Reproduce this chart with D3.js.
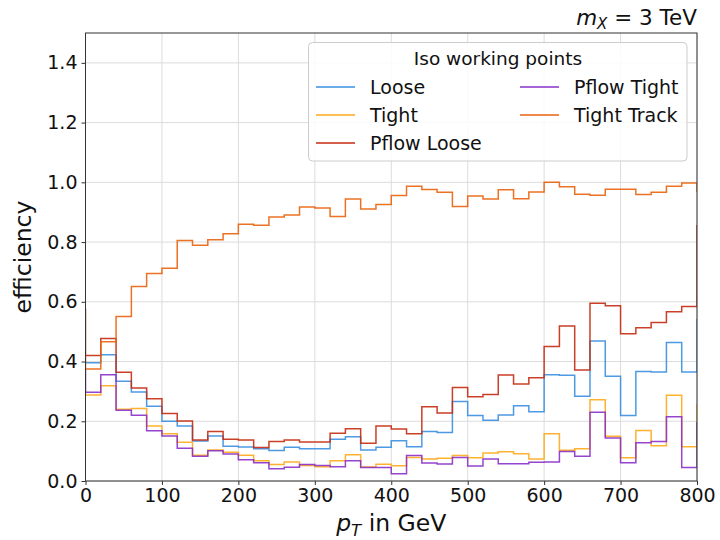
<!DOCTYPE html>
<html><head><meta charset="utf-8">
<script src="https://cdn.jsdelivr.net/npm/d3@7"></script>
<style>body{margin:0;background:#fff}svg{display:block;font-family:"DejaVu Sans",sans-serif}</style>
</head><body><svg id="c" width="720" height="540"></svg>
<script>
const binEdges = d3.range(0, 820, 20); // 0..800
const seriesNames = ["Loose", "Tight", "Pflow Loose", "Pflow Tight", "Tight Track"];
const seriesColors = ["#3a8fe0", "#ffaa1a", "#c42a10", "#8a30c8", "#ea620c"];
const loose = [0.396,0.423,0.334,0.298,0.25,0.2,0.184,0.134,0.151,0.116,0.114,0.108,0.102,0.113,0.108,0.108,0.14,0.148,0.104,0.113,0.135,0.115,0.166,0.162,0.266,0.219,0.203,0.221,0.252,0.232,0.356,0.354,0.284,0.469,0.351,0.219,0.367,0.365,0.464,0.365];
const tight = [0.288,0.319,0.24,0.243,0.184,0.158,0.13,0.086,0.104,0.096,0.086,0.068,0.055,0.064,0.052,0.048,0.068,0.088,0.047,0.056,0.051,0.079,0.074,0.076,0.085,0.078,0.094,0.098,0.091,0.074,0.158,0.103,0.108,0.272,0.15,0.078,0.169,0.118,0.287,0.115];
const pflowLoose = [0.42,0.477,0.364,0.311,0.275,0.226,0.201,0.137,0.166,0.14,0.137,0.112,0.132,0.137,0.131,0.131,0.16,0.175,0.126,0.184,0.174,0.158,0.249,0.228,0.313,0.282,0.29,0.355,0.325,0.346,0.45,0.519,0.372,0.595,0.587,0.493,0.513,0.531,0.567,0.584];
const pflowTight = [0.297,0.356,0.237,0.22,0.168,0.151,0.11,0.083,0.101,0.09,0.071,0.061,0.041,0.046,0.055,0.052,0.048,0.068,0.045,0.045,0.024,0.085,0.06,0.057,0.079,0.05,0.074,0.058,0.058,0.063,0.064,0.099,0.083,0.23,0.144,0.061,0.128,0.132,0.215,0.045];
const tightTrack = [0.375,0.466,0.551,0.651,0.695,0.712,0.805,0.789,0.808,0.828,0.86,0.856,0.884,0.891,0.917,0.914,0.886,0.944,0.911,0.926,0.956,0.987,0.976,0.967,0.919,0.954,0.944,0.975,0.945,0.968,1.0,0.985,0.96,0.957,0.977,0.977,0.959,0.967,0.987,0.998];
// values in the bins just outside the shown range (only their edges are visible)
const underflow = [0.40, 0.30, 0.573, 0.37, 0.42];
const overflow = [0.54, 0.256, 0.855, 0.195, 0.97];
const xTicks = [0,100,200,300,400,500,600,700,800];
const yTicks = [0,0.2,0.4,0.6,0.8,1.0,1.2,1.4];
const allSeries = [loose, tight, pflowLoose, pflowTight, tightTrack];

const svg = d3.select("#c");
const L = 85.5, R = 697, T = 33, B = 481;
const x = d3.scaleLinear().domain([0, 800]).range([L, R]);
const y = d3.scaleLinear().domain([0, 1.5]).range([B, T]);

svg.append("defs").append("clipPath").attr("id","clip")
  .append("rect").attr("x",L).attr("y",T).attr("width",R-L).attr("height",B-T);

// grid
const g = svg.append("g");
g.selectAll(".gx").data(xTicks).join("line")
  .attr("x1",d=>x(d)).attr("x2",d=>x(d)).attr("y1",T).attr("y2",B)
  .attr("stroke","#dcdcdc").attr("stroke-width",1);
g.selectAll(".gy").data(yTicks).join("line")
  .attr("y1",d=>y(d)).attr("y2",d=>y(d)).attr("x1",L).attr("x2",R)
  .attr("stroke","#dcdcdc").attr("stroke-width",1);

// series
const line = d3.line().x(d=>x(d[0])).y(d=>y(d[1])).curve(d3.curveStepAfter);
const plot = svg.append("g").attr("clip-path","url(#clip)");
allSeries.forEach((vals, i) => {
  const pts = [[-20, underflow[i]]];
  vals.forEach((v, j) => pts.push([binEdges[j], v]));
  pts.push([800, overflow[i]]);
  pts.push([820, overflow[i]]);
  plot.append("path").attr("d", line(pts)).attr("fill","none")
    .attr("stroke", seriesColors[i]).attr("stroke-width",1.5).attr("stroke-opacity",0.9);
});

// axes
const xAxis = svg.append("g").attr("transform",`translate(0,${B})`)
  .call(d3.axisBottom(x).tickValues(xTicks).tickSize(4).tickPadding(4).tickFormat(d3.format("d")));
const yAxis = svg.append("g").attr("transform",`translate(${L},0)`)
  .call(d3.axisLeft(y).tickValues(yTicks).tickSize(4).tickPadding(4).tickFormat(d3.format(".1f")));
[xAxis, yAxis].forEach(a => {
  a.select(".domain").remove();
  a.selectAll("line").attr("stroke","#333");
  a.selectAll("text").attr("font-size","19px").attr("fill","#111").attr("font-family","DejaVu Sans");
});
// frame
svg.append("rect").attr("x",L).attr("y",T).attr("width",R-L).attr("height",B-T)
  .attr("fill","none").attr("stroke","#333").attr("stroke-width",1);

// axis labels
const xl = svg.append("text").attr("x",(L+R)/2).attr("y",531).attr("text-anchor","middle")
  .attr("font-size","23.5px").attr("fill","#111");
xl.append("tspan").attr("font-style","italic").text("p");
xl.append("tspan").attr("font-style","italic").attr("font-size","16.5px").attr("dy",5).text("T");
xl.append("tspan").attr("dy",-5).text(" in GeV");
svg.append("text").attr("transform",`translate(31,${(T+B)/2}) rotate(-90)`)
  .attr("text-anchor","middle").attr("font-size","23.5px").attr("fill","#111").text("efficiency");

// title
const tt = svg.append("text").attr("x",R).attr("y",25).attr("text-anchor","end")
  .attr("font-size","21.5px").attr("fill","#111");
tt.append("tspan").attr("font-style","italic").text("m");
tt.append("tspan").attr("font-style","italic").attr("font-size","15px").attr("dy",4).text("X");
tt.append("tspan").attr("dy",-4).text(" = 3 TeV");

// legend
const lg = svg.append("g");
lg.append("rect").attr("x",308.5).attr("y",42.5).attr("width",378.5).attr("height",118.5)
  .attr("rx",4).attr("fill","#fff").attr("fill-opacity",0.85).attr("stroke","#cccccc");
lg.append("text").attr("x",498).attr("y",65).attr("text-anchor","middle")
  .attr("font-size","18.5px").attr("fill","#111").text("Iso working points");
const legPos = [[316,87],[316,115],[316,143],[520,87],[520,115]];
seriesNames.forEach((n,i) => {
  const [lx, ly] = legPos[i];
  lg.append("line").attr("x1",lx).attr("x2",lx+39).attr("y1",ly).attr("y2",ly)
    .attr("stroke",seriesColors[i]).attr("stroke-width",1.5);
  lg.append("text").attr("x",lx+54).attr("y",ly+6.5).attr("font-size","19px").attr("fill","#111").text(n);
});
</script></body></html>
